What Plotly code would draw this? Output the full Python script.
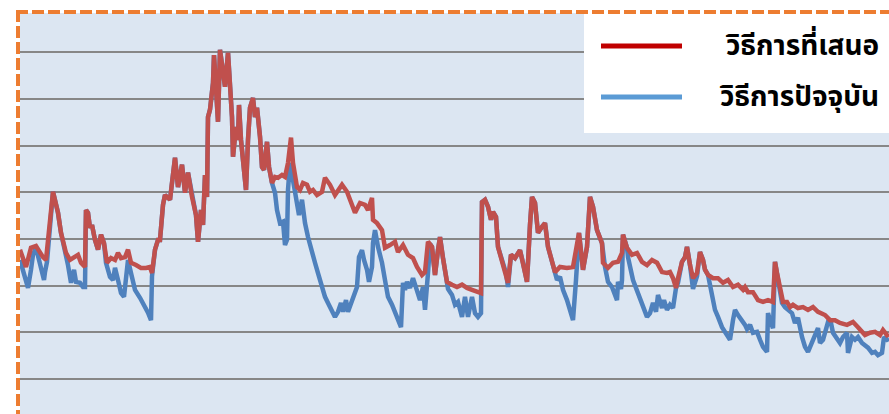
import plotly.graph_objects as go

# ---- data (index of sample along the time axis, value) ----
red_days = [0,6,11,16,23,26,33,38,41,46,50,53,58,61,65,66,68,70,72,75,78,81,84,87,91,95,98,101,105,108,
            111,116,121,126,130,132,135,138,140,143,145,150,155,158,162,165,168,172,176,178,181,183,185,187,188,
            190,193,194,196,198,200,203,205,208,210,212,213,216,218,219,221,223,226,228,230,233,235,237,240,242,
            244,247,249,252,255,258,262,265,268,271,273,277,280,283,287,290,293,297,302,305,310,315,322,327,332,
            335,340,345,348,352,353,357,362,365,370,375,378,383,388,393,397,402,405,408,412,415,418,420,423,427,
            432,437,442,447,452,457,461,462,465,468,471,473,476,478,482,486,488,491,495,500,503,507,510,512,515,
            518,522,525,528,532,535,540,547,553,557,559,563,567,570,573,577,580,582,583,588,593,598,602,603,607,
            612,617,622,627,632,637,642,647,650,653,656,658,662,665,667,670,673,677,680,683,685,688,693,698,703,
            708,713,718,723,725,728,733,738,743,748,753,755,757,760,763,767,770,773,778,783,788,793,798,805,810,
            815,820,827,833,838,845,850,855,860,863,867,869]
red_values = [3.77,3.40,3.81,3.85,3.61,3.55,5.01,4.56,4.13,3.70,3.55,3.59,3.66,3.49,3.40,4.62,4.56,4.24,4.30,3.98,
              3.77,4.09,3.91,3.49,3.59,3.55,3.70,3.59,3.61,3.77,3.49,3.44,3.38,3.38,3.40,3.27,3.77,3.98,3.98,4.73,
              4.94,4.84,5.74,5.11,5.59,4.99,5.42,4.90,4.51,3.94,4.62,4.30,5.37,4.90,6.61,6.77,7.34,7.94,7.19,6.51,
              8.05,7.62,7.26,7.99,7.26,6.61,5.76,6.40,6.12,6.87,6.12,5.63,5.05,6.12,6.81,7.02,6.61,6.81,6.19,5.54,
              5.48,6.08,5.54,5.20,5.33,5.31,5.37,5.33,5.63,6.17,5.63,5.11,5.05,5.20,5.16,5.01,5.05,4.94,5.01,5.31,
              5.16,4.94,5.16,5.01,4.73,4.56,4.77,4.73,4.62,4.88,4.41,4.34,4.19,3.81,3.87,3.94,3.72,3.87,3.66,3.59,
              3.40,3.23,3.29,3.94,3.83,3.23,3.76,4.04,3.59,3.08,3.02,2.97,3.02,2.95,2.91,2.86,2.84,4.79,4.84,4.69,
              4.41,4.58,4.47,3.83,3.55,3.27,3.06,3.66,3.59,3.76,3.49,3.08,4.30,4.90,4.77,4.13,4.26,4.34,3.83,3.49,
              3.29,3.40,3.38,3.40,3.83,4.13,3.34,3.83,4.90,4.69,4.19,3.98,3.91,3.49,3.38,3.49,3.51,3.70,4.09,3.81,
              3.66,3.70,3.51,3.44,3.55,3.49,3.29,3.27,3.29,3.16,2.95,3.16,3.51,3.61,3.83,3.44,3.16,3.27,3.72,3.55,
              3.34,3.23,3.16,3.16,3.06,3.12,2.97,3.02,2.91,2.97,2.86,2.86,2.69,2.65,2.69,2.65,3.51,3.27,2.91,2.65,
              2.65,2.54,2.59,2.52,2.54,2.48,2.54,2.44,2.37,2.26,2.26,2.20,2.16,2.22,2.11,1.94,1.99,2.01,1.94,2.05,
              1.94,1.96]

blue_days = [0,5,8,11,13,16,21,24,25,27,33,38,41,46,48,51,54,56,60,63,65,66,68,70,72,75,78,81,84,86,90,93,95,98,
             101,104,106,108,111,115,120,124,128,131,132,135,138,140,143,145,150,155,158,162,165,168,172,176,178,
             181,183,185,187,188,190,193,194,196,198,200,203,205,208,210,212,213,216,218,219,221,223,226,228,230,
             233,235,237,240,242,244,247,249,252,255,257,260,263,265,267,268,270,273,277,279,282,285,288,292,295,
             298,302,305,308,312,315,318,321,323,326,328,332,335,337,339,342,344,347,349,352,353,355,358,362,365,
             368,372,375,378,381,383,385,387,390,393,397,400,403,405,408,410,412,415,418,420,423,427,428,432,435,
             438,442,445,448,452,455,458,461,462,465,468,471,473,476,478,482,486,488,491,495,500,503,507,510,512,
             515,518,522,525,528,532,535,537,540,543,547,550,553,556,559,563,567,570,573,577,580,582,585,588,592,
             595,597,598,601,602,603,607,608,613,618,623,627,630,633,636,638,642,644,647,650,653,656,658,662,665,
             667,670,673,677,680,683,685,688,692,695,698,702,707,710,713,715,718,722,725,727,730,733,737,740,743,
             747,748,750,753,755,757,760,762,765,768,772,775,778,782,785,788,792,795,798,800,803,808,811,813,817,
             820,823,827,828,832,835,838,842,845,848,852,855,858,862,864,867,869]
blue_values = [3.55,3.19,2.95,3.34,3.66,3.81,3.40,3.12,3.29,3.51,5.01,4.56,4.13,3.70,3.44,3.06,3.34,3.08,3.06,2.97,
               2.97,4.62,4.56,4.24,4.30,3.98,3.77,4.09,3.91,3.49,3.19,3.12,3.38,3.12,2.84,2.76,3.08,3.55,3.27,2.91,
               2.74,2.59,2.42,2.26,3.20,3.77,3.98,3.98,4.73,4.94,4.84,5.74,5.11,5.59,4.99,5.42,4.90,4.51,3.94,4.62,
               4.30,5.37,4.90,6.61,6.77,7.34,7.94,7.19,6.51,8.05,7.62,7.26,7.99,7.26,6.61,5.76,6.40,6.12,6.87,6.12,
               5.63,5.05,6.12,6.81,7.02,6.61,6.81,6.19,5.54,5.48,6.08,5.54,5.20,4.99,4.62,4.34,4.37,3.87,3.98,5.05,
               5.63,5.26,4.84,4.51,4.84,4.34,4.04,3.77,3.49,3.27,2.97,2.76,2.63,2.44,2.33,2.44,2.63,2.44,2.69,2.44,
               2.65,2.84,2.97,3.61,3.76,3.55,3.34,3.08,3.40,3.91,4.19,3.83,3.49,3.12,2.76,2.59,2.44,2.31,2.11,3.06,
               2.91,3.08,2.95,3.16,2.91,2.69,2.97,2.48,3.27,3.90,3.83,3.23,3.76,4.04,3.59,3.08,2.93,2.80,2.59,2.65,
               2.33,2.76,2.33,2.76,2.41,2.33,2.41,4.79,4.84,4.69,4.41,4.58,4.47,3.83,3.55,3.27,2.97,3.66,3.59,3.76,
               3.49,3.08,4.30,4.90,4.77,4.13,4.26,4.34,3.83,3.49,3.29,3.12,3.19,2.91,2.69,2.48,2.26,3.12,4.13,3.34,
               3.83,4.90,4.69,4.19,3.98,3.91,3.40,3.08,2.97,2.76,2.69,3.08,2.93,3.12,4.09,3.81,3.61,3.12,2.84,2.59,
               2.33,2.41,2.63,2.44,2.80,2.52,2.69,2.48,2.59,2.52,2.95,3.06,3.51,3.61,3.83,3.44,2.93,3.20,3.72,3.55,
               3.34,3.23,2.76,2.48,2.33,2.11,1.94,1.84,2.26,2.48,2.37,2.26,2.16,2.07,2.16,1.99,2.01,1.84,1.69,1.58,
               2.41,2.26,2.09,3.51,3.27,2.91,2.63,2.54,2.48,2.41,2.20,2.31,1.90,1.69,1.58,1.79,1.94,2.09,1.77,1.84,
               2.22,2.20,1.99,1.88,1.77,1.90,1.99,1.56,1.90,1.84,1.90,1.77,1.73,1.67,1.56,1.58,1.51,1.56,1.90,1.84,
               1.86]

series_names = ["วิธีการที่เสนอ", "วิธีการปัจจุบัน"]

W, H = 889, 414
PL, PT = 20, 13  # plot area offsets inside the figure

fig = go.Figure()
fig.add_trace(go.Scatter(x=blue_days, y=blue_values, mode="lines",
                         line=dict(color="#4F81BD", width=4.5), showlegend=False))
fig.add_trace(go.Scatter(x=red_days, y=red_values, mode="lines",
                         line=dict(color="#C0504D", width=4.5), showlegend=False))

def px(x):
    return x / W

def py(y):
    return 1 - y / H

FONT = "Noto Sans Thai, Tahoma, Loma, DejaVu Sans, sans-serif"

shapes = [
    # legend box
    dict(type="rect", xref="paper", yref="paper", x0=px(584), x1=px(889), y0=py(133), y1=py(13),
         fillcolor="white", line=dict(width=0), layer="above"),
    dict(type="line", xref="paper", yref="paper", x0=px(601), x1=px(682), y0=py(46), y1=py(46),
         line=dict(color="#C00000", width=5), layer="above"),
    dict(type="line", xref="paper", yref="paper", x0=px(601), x1=px(682), y0=py(97), y1=py(97),
         line=dict(color="#5B9BD5", width=5), layer="above"),
    # orange dashed border
    dict(type="line", xref="paper", yref="paper", x0=px(16), x1=px(889), y0=py(12), y1=py(12),
         line=dict(color="#ED7D31", width=4, dash="12px,4px"), layer="above"),
    dict(type="line", xref="paper", yref="paper", x0=px(18), x1=px(18), y0=py(10), y1=py(414),
         line=dict(color="#ED7D31", width=4, dash="12px,4px"), layer="above"),
]

annotations = [
    dict(text="<b>%s</b>" % series_names[0], xref="paper", yref="paper", x=px(881), y=py(46),
         xanchor="right", yanchor="middle", showarrow=False,
         font=dict(size=28, color="black", family=FONT)),
    dict(text="<b>%s</b>" % series_names[1], xref="paper", yref="paper", x=px(881), y=py(97),
         xanchor="right", yanchor="middle", showarrow=False,
         font=dict(size=28, color="black", family=FONT)),
]

fig.update_layout(
    width=W, height=H,
    margin=dict(l=0, r=0, t=0, b=0),
    paper_bgcolor="white",
    plot_bgcolor="#DCE6F2",
    shapes=shapes,
    annotations=annotations,
    hovermode=False,
    xaxis=dict(domain=[PL / W, 1], range=[0, 869], showgrid=False, zeroline=False,
               showticklabels=False, ticks="", showline=False),
    yaxis=dict(domain=[0, 1 - PT / H], range=[0.25, 8.84], dtick=1, tick0=0,
               showgrid=True, gridcolor="#878787", gridwidth=1.5, zeroline=False,
               showticklabels=False, ticks="", showline=False),
)

fig.write_html(
    "out.html",
    config={"displayModeBar": False},
    post_script="document.body.style.margin='0';document.body.style.overflow='hidden';"
                "document.documentElement.style.overflow='hidden';",
)
